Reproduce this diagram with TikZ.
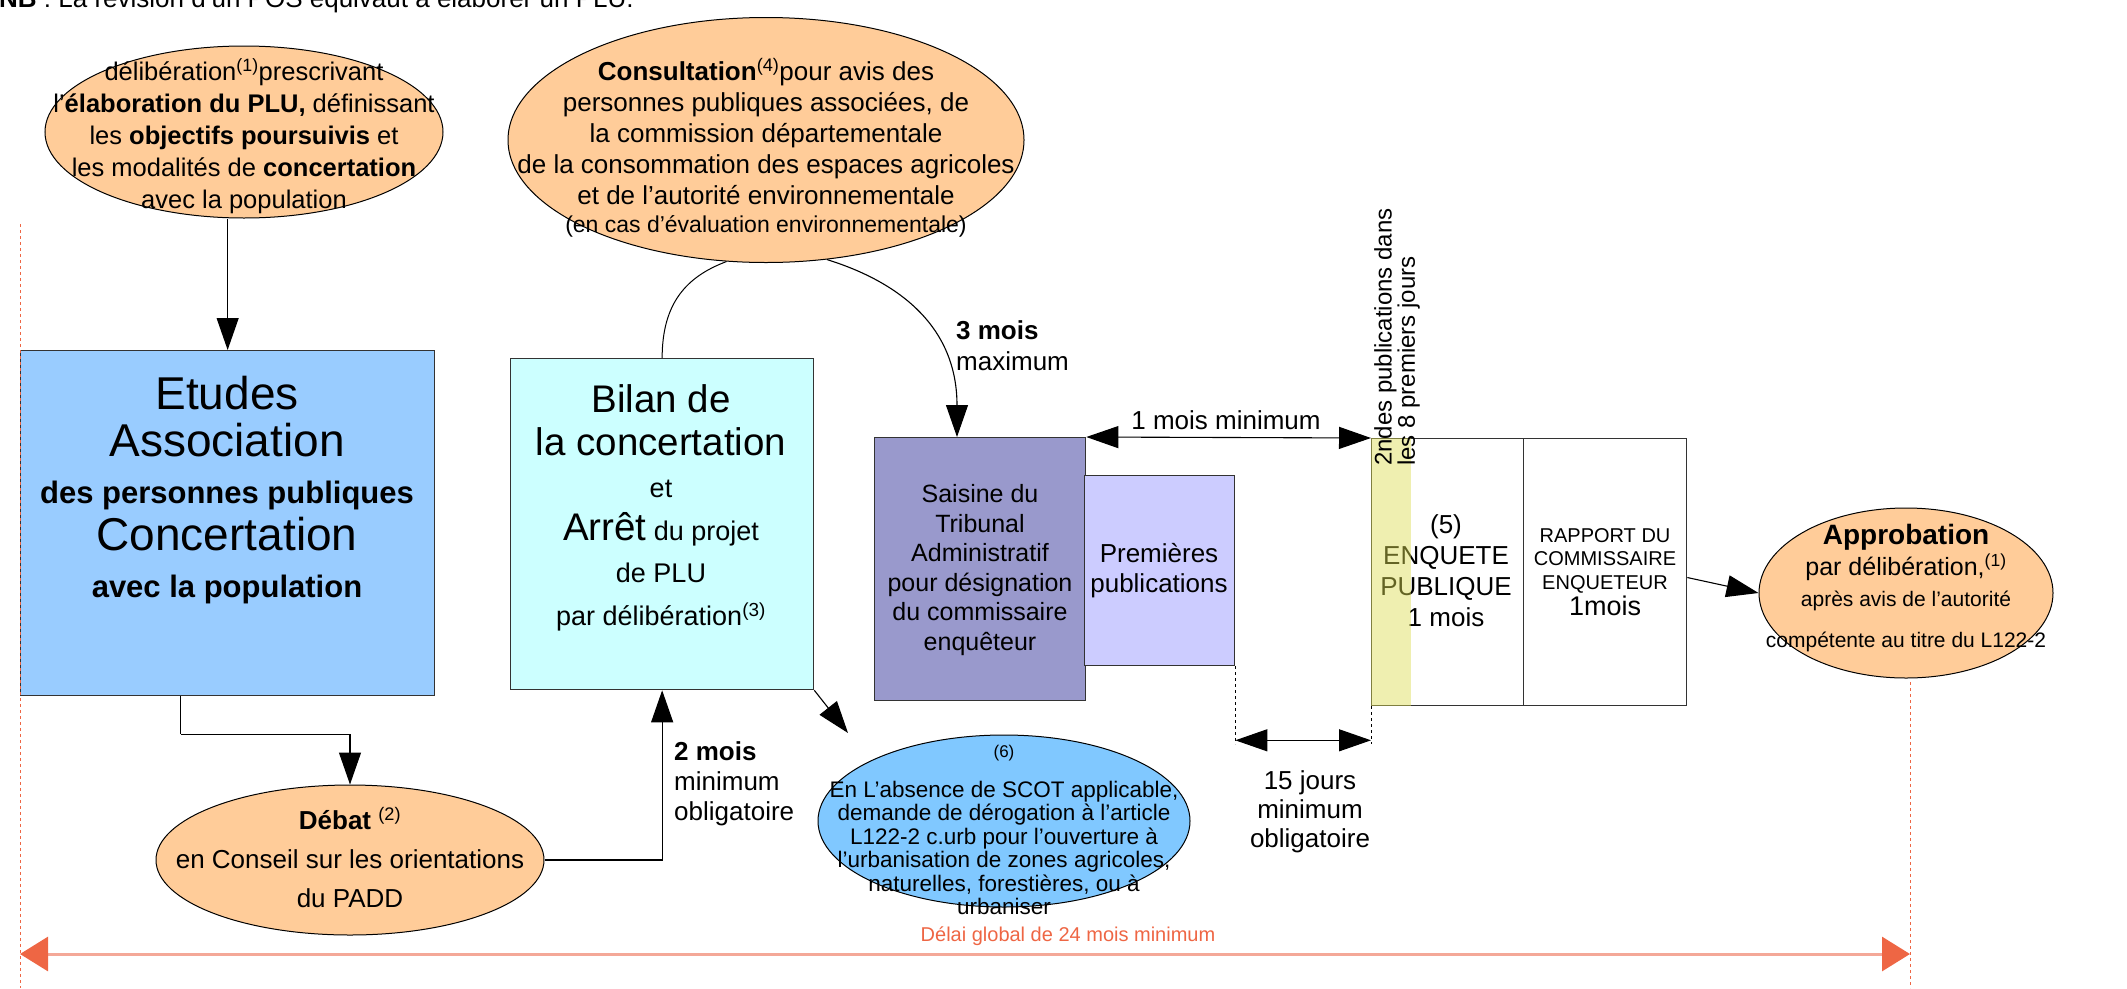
\documentclass[tikz,border=0pt]{standalone}
\usepackage{fontspec}
\setmainfont{Liberation Sans}
\usetikzlibrary{arrows.meta,shapes.geometric,calc}
\definecolor{orangeE}{HTML}{FFCC99}
\definecolor{blueBox}{HTML}{99CCFF}
\definecolor{cyanBox}{HTML}{CCFFFF}
\definecolor{purpleBox}{HTML}{9999CC}
\definecolor{lavBox}{HTML}{CCCCFF}
\definecolor{yellowS}{HTML}{DCDC50}
\definecolor{blueE}{HTML}{80C8FF}
\definecolor{redA}{HTML}{EE6644}
\definecolor{redL}{HTML}{F4A898}
\newcommand\myfs[2]{\fontsize{#1}{#2}\selectfont}
\begin{document}
\begin{tikzpicture}[x=1pt,y=-1pt,
  ell/.style={ellipse, draw=black, line width=1pt, inner sep=0pt},
  boxs/.style={rectangle, draw=black!80, line width=1.3pt, inner sep=0pt, anchor=north west},
  txt/.style={inner sep=0pt, align=center},
  conn/.style={line width=1.1pt, -{Triangle[length=32pt,width=22pt]}},
  dconn/.style={line width=1.1pt, {Triangle[length=32pt,width=22pt]}-{Triangle[length=32pt,width=22pt]}},
  redarr/.style={redL, line width=3pt, {Triangle[length=28pt,width=34pt,color=redA]}-{Triangle[length=28pt,width=34pt,color=redA]}},
  reddash/.style={redA, dashed, line width=0.9pt}]
\useasboundingbox (0,0) rectangle (2127,988);
\clip (0,0) rectangle (2127,988);

% note at top (cut)
\node[anchor=base west, inner sep=0pt, font=\myfs{26}{30}] (nb) at (-1,7) {\textbf{NB} : La révision d'un POS équivaut à élaborer un PLU.};

% ellipses
\node[ell, fill=orangeE, minimum width=398pt, minimum height=172pt] (delib) at (244,132) {};
\node[txt, font=\myfs{25.5}{32}] (delibT) at (244,136)
 {délibération\textsuperscript{(1)}prescrivant\\ l'\textbf{élaboration du PLU,} définissant\\ les \textbf{objectifs poursuivis} et\\ les modalités de \textbf{concertation}\\ avec la population};

\node[ell, fill=orangeE, minimum width=516pt, minimum height=245pt] (consult) at (766,140) {};
\node[txt, font=\myfs{26}{31}] (consultT) at (766,148)
 {\textbf{Consultation}\textsuperscript{(4)}pour avis des\\ personnes publiques associées, de\\ la commission départementale\\ de la consommation des espaces agricoles\\ et de l'autorité environnementale\\[-3pt] {\myfs{23}{31}(en cas d'évaluation environnementale)}};

\node[ell, fill=orangeE, minimum width=388pt, minimum height=150pt] (debat) at (350,860) {};
\node[txt, font=\myfs{26}{39}] (debatT) at (350,858) {\textbf{Débat} \textsuperscript{(2)}\\ en Conseil sur les orientations\\ du PADD};

\node[ell, fill=orangeE, minimum width=294pt, minimum height=170pt] (approb) at (1906,593) {};
\node[txt, font=\myfs{21}{31}] (approbT) at (1906,588) {{\myfs{28}{31}\textbf{Approbation}}\\ {\myfs{25}{31}par délibération,\textsuperscript{(1)}}\\ après avis de l'autorité\\[10pt] compétente au titre du L122-2};

\node[ell, fill=blueE, minimum width=372pt, minimum height=172pt] (scot) at (1004,821) {};
\node[txt, font=\myfs{22.5}{23.5}] (scotT) at (1004,830) {{\myfs{17}{23.5}(6)}\\[16pt] En L'absence de SCOT applicable,\\ demande de dérogation à l'article\\ L122-2 c.urb pour l'ouverture à\\ l'urbanisation de zones agricoles,\\ naturelles, forestières, ou à\\ urbaniser};

% boxes
\node[boxs, fill=blueBox, minimum width=414pt, minimum height=345pt] (etudes) at (20,350) {};
\node[txt, font=\myfs{31}{47}] (etudesT) at (227,490) {{\myfs{46}{47}Etudes}\\ {\myfs{46}{47}Association}\\ \textbf{des personnes publiques}\\ {\myfs{46}{47}Concertation}\\ \textbf{avec la population}};

\node[boxs, fill=cyanBox, minimum width=303pt, minimum height=331pt] (bilan) at (510,358) {};
\node[txt, font=\myfs{27}{42.5}] (bilanT) at (661,508) {{\myfs{38.5}{42.5}Bilan de}\\ {\myfs{38.5}{42.5}la concertation}\\ et\\ {\myfs{38.5}{42.5}Arrêt} du projet\\ de PLU\\ par délibération\textsuperscript{(3)}};

\node[boxs, fill=purpleBox, minimum width=211pt, minimum height=263pt] (saisine) at (874,437) {};
\node[txt, font=\myfs{25}{29.5}] (saisineT) at (980,570) {Saisine du\\ Tribunal\\ Administratif\\ pour désignation\\ du commissaire\\ enquêteur};

\node[boxs, fill=lavBox, minimum width=150pt, minimum height=190pt] (prem) at (1084,475) {};
\node[txt, font=\myfs{26}{30}] (premT) at (1159,571) {Premières\\ publications};

\node[boxs, fill=white, minimum width=152pt, minimum height=267pt] (enquete) at (1371,438) {};
\node[txt, font=\myfs{26}{31}] (enqueteT) at (1446,571) {(5)\\ ENQUETE\\ PUBLIQUE\\ 1 mois};
\fill[yellowS, opacity=0.45] (enquete.north west) rectangle ($(enquete.south west)+(40,0)$);

\node[boxs, fill=white, minimum width=163pt, minimum height=267pt] (rapport) at (1523,438) {};
\node[txt, font=\myfs{20}{23.5}] (rapportT) at (1605,572) {RAPPORT DU\\ COMMISSAIRE\\ ENQUETEUR\\[3pt] {\myfs{27}{31}1mois}};

\node[inner sep=0pt, rotate=90, anchor=north west, align=left, font=\myfs{24}{21}] (pub2) at (1374,466) {2ndes publications dans\\ les 8 premiers jours};

% labels
\node[inner sep=0pt, anchor=west, align=left, font=\myfs{26}{31}] (l3mois) at (956,346) {\textbf{3 mois}\\ maximum};
\node[txt, font=\myfs{26}{30}] (l1mois) at (1226,420) {1 mois minimum};
\node[inner sep=0pt, anchor=west, align=left, font=\myfs{26}{30}] (l2mois) at (674,784) {\textbf{2 mois}\\ minimum\\ obligatoire};
\node[txt, font=\myfs{26}{29}] (l15) at (1310,812) {15 jours\\ minimum\\ obligatoire};
\node[txt, font=\myfs{20}{24}, text=redA] (delai) at (1068,936) {Délai global de 24 mois minimum};

% connectors
\draw[conn] (delib.south -| etudes.north) -- (etudes.north);
\coordinate (etOut) at ($(etudes.south west)!0.387!(etudes.south east)$);
\draw[line width=1.1pt] (etOut) -- ++(0,38) coordinate (etBend);
\draw[conn] (etBend) -| (debat.north);
\draw[conn] (debat.east) -| (bilan.south);
\draw[line width=1pt] (consult.252) .. controls +(-40,15) and +(0,-55) .. (bilan.north);
\coordinate (saisIn) at ($(saisine.north west)+(83,0)$);
\draw[conn] (consult.297) .. controls +(80,25) and +(0,-105) .. (saisIn);
\draw[dconn] (saisine.north east) -- (enquete.north west);
\coordinate (p15a) at ($(prem.south east)+(0,78)$);
\coordinate (p15b) at (p15a -| enquete.south west);
\draw[dashed, line width=0.9pt] (prem.south east) -- (p15a);
\draw[dashed, line width=0.9pt] (enquete.south west) -- (p15b);
\draw[dconn] ($(p15a)+(0,-4)$) coordinate (p15c) -- ($(p15b)+(0,-4)$);
\draw[conn] ($(rapport.north east)!0.52!(rapport.south east)$) coordinate (rapOut) -- (approb.west);
\coordinate (scotIn) at (848,733);
\draw[conn] (bilan.south east) -- (scotIn);

% global delay
\coordinate (gl) at (20,954);
\coordinate (gr) at (1910,954);
\draw[reddash] (20,224) coordinate (gltop) -- (20,988) coordinate (glbot);
\draw[reddash] (1910,682) coordinate (grtop) -- (1910,988) coordinate (grbot);
\draw[redarr] (gl) -- (gr);
\end{tikzpicture}
\end{document}
